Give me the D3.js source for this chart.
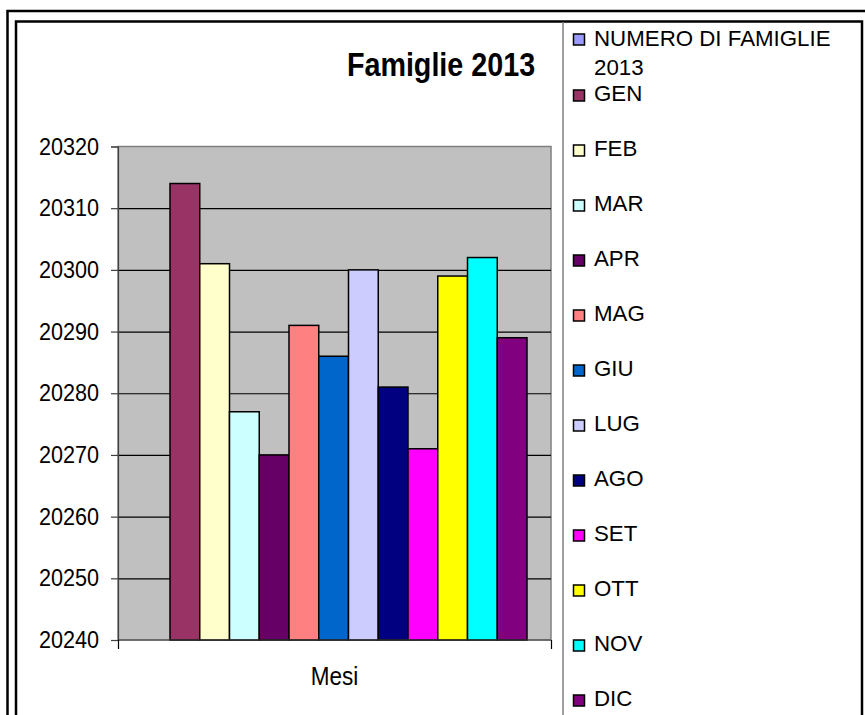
<!DOCTYPE html>
<html>
<head>
<meta charset="utf-8">
<script src="https://cdn.jsdelivr.net/npm/d3@7"></script>
<style>
  body { margin: 0; background: #fff; }
  text { font-family: "Liberation Sans", Arial, sans-serif; fill: #000; }
</style>
</head>
<body>
<div id="chart"></div>
<script>
// data
const months = ["GEN", "FEB", "MAR", "APR", "MAG", "GIU", "LUG", "AGO", "SET", "OTT", "NOV", "DIC"];
const values = [20314, 20301, 20277, 20270, 20291, 20286, 20300, 20281, 20271, 20299, 20302, 20289];
const colors = ["#993366", "#FFFFCC", "#CCFFFF", "#660066", "#FF8080", "#0066CC",
  "#CCCCFF", "#000080", "#FF00FF", "#FFFF00", "#00FFFF", "#800080"];
const yTicks = [20240, 20250, 20260, 20270, 20280, 20290, 20300, 20310, 20320];
const seriesName = ["NUMERO DI FAMIGLIE", "2013"];
const seriesColor = "#9999FF";
const title = "Famiglie 2013";
const category = "Mesi";

const width = 865, height = 715;
const plot = { left: 118, right: 551, top: 146.5, bottom: 640 };

const svg = d3.select("#chart").append("svg")
  .attr("width", width)
  .attr("height", height);

svg.append("rect").attr("width", width).attr("height", height).attr("fill", "#fff");

// outer / inner frames (cut off at right and bottom like the screenshot)
svg.append("path")
  .attr("d", `M7.5,${height} V11 H${width}`)
  .attr("fill", "none").attr("stroke", "#000").attr("stroke-width", 2.5);
svg.append("path")
  .attr("d", `M16,${height} V21.5 H862 V${height}`)
  .attr("fill", "none").attr("stroke", "#000").attr("stroke-width", 2.5);

// legend box left edge
svg.append("line")
  .attr("x1", 563).attr("x2", 563).attr("y1", 22).attr("y2", height)
  .attr("stroke", "#808080").attr("stroke-width", 1.5);

const x = d3.scaleBand().domain(months).range([170, 527]).paddingInner(0);
const y = d3.scaleLinear().domain([yTicks[0], yTicks[yTicks.length - 1]]).range([plot.bottom, plot.top]);

// plot background
svg.append("rect")
  .attr("x", plot.left).attr("y", plot.top)
  .attr("width", plot.right - plot.left).attr("height", plot.bottom - plot.top)
  .attr("fill", "#C0C0C0").attr("stroke", "#808080").attr("stroke-width", 1.5);

// gridlines
svg.append("g")
  .attr("transform", `translate(${plot.left},0)`)
  .call(d3.axisLeft(y).tickValues(yTicks.slice(1, -1)).tickSize(-(plot.right - plot.left)).tickFormat(""))
  .call(g => g.select(".domain").remove())
  .call(g => g.selectAll("line").attr("stroke", "#000").attr("stroke-width", 1.2));

// bars
svg.append("g")
  .selectAll("rect")
  .data(values)
  .join("rect")
  .attr("x", (d, i) => x(months[i]))
  .attr("y", d => y(d))
  .attr("width", x.bandwidth())
  .attr("height", d => y(yTicks[0]) - y(d))
  .attr("fill", (d, i) => colors[i])
  .attr("stroke", "#000")
  .attr("stroke-width", 1.5);

// y axis
svg.append("g")
  .attr("transform", `translate(${plot.left},0)`)
  .call(d3.axisLeft(y).tickValues(yTicks).tickSize(7).tickFormat(d3.format("d")))
  .call(g => g.select(".domain").attr("stroke", "#404040").attr("stroke-width", 1.2))
  .call(g => g.selectAll("line").attr("stroke", "#404040").attr("stroke-width", 1.2))
  .call(g => g.selectAll("text")
    .attr("x", 0)
    .attr("transform", "translate(-19,0) scale(0.9,1)")
    .style("font-family", "'Liberation Sans', Arial, sans-serif")
    .style("font-size", "24px")
    .attr("fill", "#000"));

// x axis
const xAxis = d3.scalePoint().domain(["a", "b"]).range([plot.left, plot.right]);
svg.append("g")
  .attr("transform", `translate(0,${plot.bottom})`)
  .call(d3.axisBottom(xAxis).tickSize(9).tickFormat(""))
  .call(g => g.select(".domain").attr("stroke", "#404040").attr("stroke-width", 1.2).attr("d", `M${plot.left},0H${plot.right}`))
  .call(g => g.selectAll("line").attr("stroke", "#000").attr("stroke-width", 1.2));

svg.append("text")
  .attr("transform", `translate(${(plot.left + plot.right) / 2},685) scale(0.9,1)`)
  .attr("text-anchor", "middle")
  .style("font-size", "25px")
  .text(category);

// title
svg.append("text")
  .attr("transform", "translate(441,75.5) scale(0.87,1)")
  .attr("text-anchor", "middle")
  .style("font-size", "33px")
  .style("font-weight", "bold")
  .text(title);

// legend
const legend = svg.append("g").attr("transform", "translate(573,0)");
const legendFont = "23px";
const legendScale = "scale(0.97,1)";

legend.append("rect")
  .attr("x", 0.5).attr("y", 34).attr("width", 11).attr("height", 11)
  .attr("fill", seriesColor).attr("stroke", "#000").attr("stroke-width", 1.5);
legend.append("text")
  .attr("transform", `translate(21,46) ${legendScale}`)
  .style("font-size", legendFont)
  .text(seriesName[0]);
legend.append("text")
  .attr("transform", `translate(21,75) ${legendScale}`)
  .style("font-size", legendFont)
  .text(seriesName[1]);

const ly = d3.scalePoint().domain(months).range([101, 706]);
const items = legend.selectAll("g.item")
  .data(months)
  .join("g")
  .attr("class", "item")
  .attr("transform", d => `translate(0,${ly(d)})`);

items.append("rect")
  .attr("x", 0.5).attr("y", -11).attr("width", 11).attr("height", 11)
  .attr("fill", (d, i) => colors[i])
  .attr("stroke", "#000").attr("stroke-width", 1.5);

items.append("text")
  .attr("transform", `translate(21,0) ${legendScale}`)
  .style("font-size", legendFont)
  .text(d => d);
</script>
</body>
</html>
